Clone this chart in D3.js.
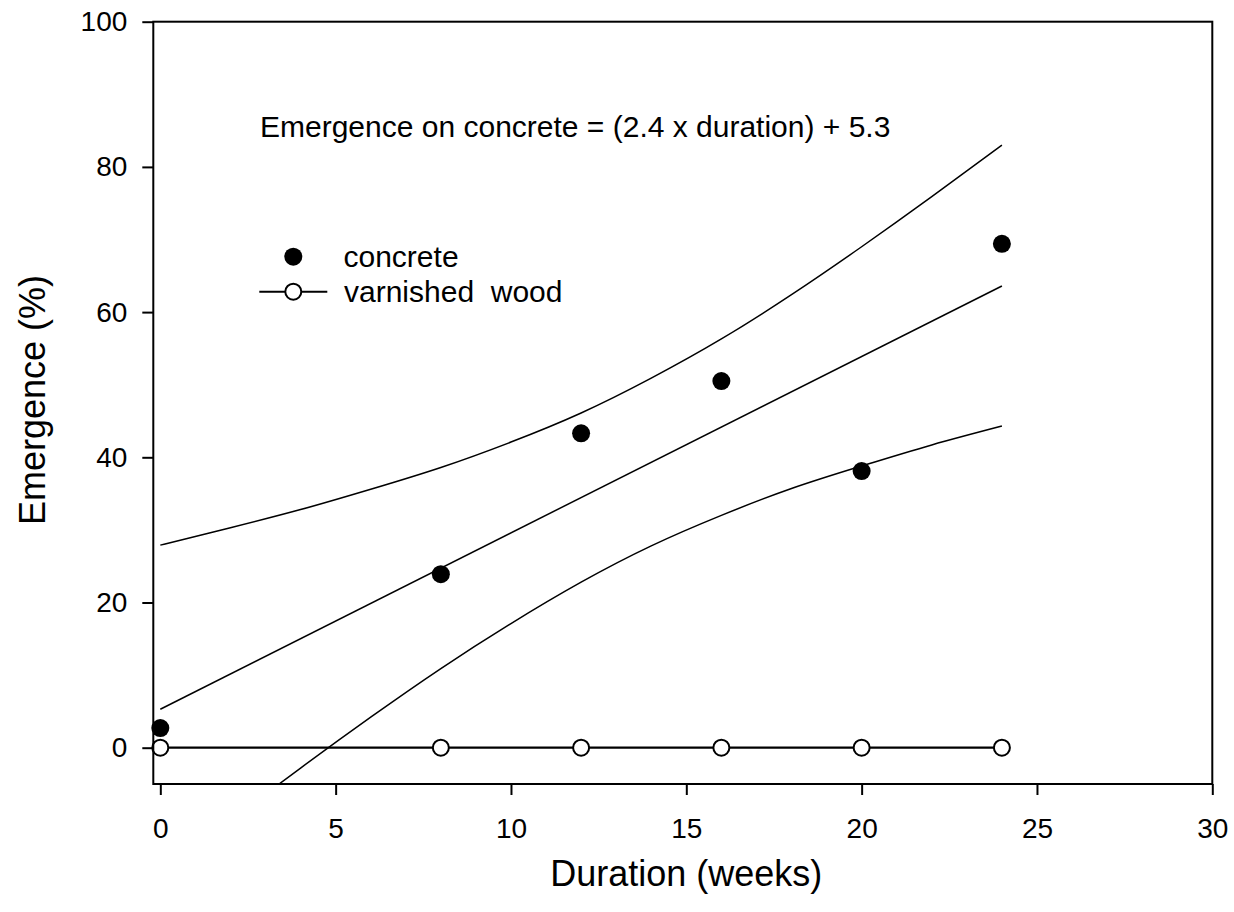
<!DOCTYPE html>
<html>
<head>
<meta charset="utf-8">
<script src="https://cdn.jsdelivr.net/npm/d3@7"></script>
<style>
  html, body { margin: 0; padding: 0; background: #fff; }
  svg { display: block; font-family: "Liberation Sans", Arial, sans-serif; }
</style>
</head>
<body>
<svg id="chart" width="1234" height="912"></svg>
<script>
// ---- data ----
const weeks = [0, 8, 12, 16, 20, 24];
const concrete = [2.7, 23.9, 43.3, 50.5, 38.1, 69.4];
const varnishedWood = [0, 0, 0, 0, 0, 0];

// regression line (read at its ends)
const fitX = [0, 24];
const fitY = [5.3, 63.6];

// confidence band curves
const bandX = [0, 2, 4, 6, 8, 10, 12, 14, 16, 18, 20, 22, 24];
const bandUpper = [27.9, 30.3, 32.8, 35.6, 38.6, 42.1, 46.1, 50.9, 56.3, 62.4, 69.0, 75.9, 83.0];
const bandLower = [-17.3, -10.0, -2.8, 4.2, 10.9, 17.1, 22.8, 27.8, 32.0, 35.7, 38.8, 41.7, 44.3];

const xTicks = [0, 5, 10, 15, 20, 25, 30];
const yTicks = [0, 20, 40, 60, 80, 100];

const equationText = "Emergence on concrete = (2.4 x duration) + 5.3";
const legendLabels = ["concrete", "varnished\u00a0\u00a0wood"];
const xTitle = "Duration (weeks)";
const yTitle = "Emergence (%)";

// ---- layout ----
const svg = d3.select("#chart");
const pL = 153.3, pR = 1212.3, pT = 21.7, pB = 784;
const x = d3.scaleLinear().domain([-0.2, 30]).range([pL, pR]);
const y = d3.scaleLinear().domain([-5, 100]).range([pB, pT]);

svg.append("defs").append("clipPath").attr("id", "plotclip")
  .append("rect").attr("x", pL).attr("y", pT)
  .attr("width", pR - pL).attr("height", pB - pT);

const plot = svg.append("g").attr("clip-path", "url(#plotclip)");

// bands
const bandLine = d3.line().curve(d3.curveNatural);
plot.append("path")
  .attr("d", bandLine(bandX.map((d, i) => [x(d), y(bandUpper[i])])))
  .attr("fill", "none").attr("stroke", "#000").attr("stroke-width", 1.5);
plot.append("path")
  .attr("d", bandLine(bandX.map((d, i) => [x(d), y(bandLower[i])])))
  .attr("fill", "none").attr("stroke", "#000").attr("stroke-width", 1.5);

// regression
plot.append("path")
  .attr("d", d3.line()(fitX.map((d, i) => [x(d), y(fitY[i])])))
  .attr("fill", "none").attr("stroke", "#000").attr("stroke-width", 1.5);

// varnished wood line
plot.append("path")
  .attr("d", d3.line()(weeks.map((d, i) => [x(d), y(varnishedWood[i])])))
  .attr("fill", "none").attr("stroke", "#000").attr("stroke-width", 2.2);

// concrete points
svg.append("g").selectAll("circle").data(weeks).join("circle")
  .attr("cx", d => x(d)).attr("cy", (d, i) => y(concrete[i]))
  .attr("r", 9).attr("fill", "#000");

// varnished wood points
svg.append("g").selectAll("circle").data(weeks).join("circle")
  .attr("cx", d => x(d)).attr("cy", (d, i) => y(varnishedWood[i]))
  .attr("r", 8).attr("fill", "#fff").attr("stroke", "#000").attr("stroke-width", 2);

// frame
svg.append("rect").attr("x", pL).attr("y", pT)
  .attr("width", pR - pL).attr("height", pB - pT)
  .attr("fill", "none").attr("stroke", "#000").attr("stroke-width", 2);

// axes
const xAxis = d3.axisBottom(x).tickValues(xTicks).tickSize(11).tickPadding(23).tickFormat(d3.format("d"));
const gx = svg.append("g").attr("transform", `translate(0,${pB})`).call(xAxis);
const yAxis = d3.axisLeft(y).tickValues(yTicks).tickSize(11).tickPadding(15).tickFormat(d3.format("d"));
const gy = svg.append("g").attr("transform", `translate(${pL},0)`).call(yAxis);
[gx, gy].forEach(g => {
  g.select(".domain").remove();
  g.selectAll(".tick line").attr("stroke", "#000").attr("stroke-width", 2);
  g.selectAll(".tick text").attr("fill", "#000").style("font-size", "28px")
    .style("font-family", "Liberation Sans, Arial, sans-serif");
});

// titles
svg.append("text").attr("x", (x(0) + x(30)) / 2).attr("y", 886)
  .attr("text-anchor", "middle").style("font-size", "36px").text(xTitle);
svg.append("text").attr("transform", `translate(45,400) rotate(-90)`)
  .attr("text-anchor", "middle").style("font-size", "36px").text(yTitle);

// equation
svg.append("text").attr("x", 260).attr("y", 136.7)
  .style("font-size", "30px").text(equationText);

// legend
svg.append("circle").attr("cx", 293.3).attr("cy", 256.7).attr("r", 9).attr("fill", "#000");
svg.append("text").attr("x", 343.5).attr("y", 267).style("font-size", "30px").text(legendLabels[0]);
svg.append("line").attr("x1", 259.3).attr("x2", 327.3).attr("y1", 291.7).attr("y2", 291.7)
  .attr("stroke", "#000").attr("stroke-width", 2);
svg.append("circle").attr("cx", 293.3).attr("cy", 291.7).attr("r", 8)
  .attr("fill", "#fff").attr("stroke", "#000").attr("stroke-width", 2);
svg.append("text").attr("x", 344).attr("y", 301.7).style("font-size", "30px").text(legendLabels[1]);
</script>
</body>
</html>
